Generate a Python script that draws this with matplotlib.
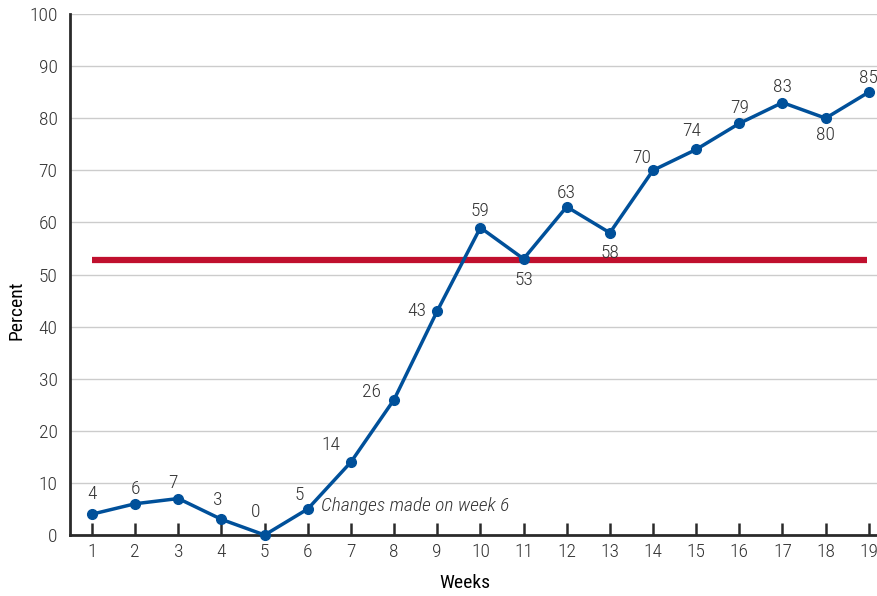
import matplotlib
matplotlib.use("Agg")
import matplotlib.pyplot as plt
import numpy as np

weeks = list(range(1, 20))
percent = [4, 6, 7, 3, 0, 5, 14, 26, 43, 59, 53, 63, 58, 70, 74, 79, 83, 80, 85]
point_labels = [str(v) for v in percent]
median_line = 52.7
median_span = [1, 18.95]
note_text = "Changes made on week 6"

# label offsets in pixels (dx, dy)
label_offsets = [(0, 20), (0, 15), (-5, 16), (-4, 19), (-9, 23), (-9, 14),
                 (-20, 17), (-23, 8), (-20, 0), (0, 17), (0, -21), (0, 14),
                 (0, -20), (-11, 12), (-4, 18), (0, 15), (0, 16), (0, -17),
                 (0, 14)]

plt.rcParams.update({
    "font.family": ["Roboto Condensed", "DejaVu Sans"],
    "font.size": 14,
    "font.weight": "light",
    "text.color": "#333333",
})

BLUE = "#00509a"
RED = "#c0102e"
DARK = "#2a2a2a"
TXT = "#333333"

fig = plt.figure(figsize=(8.77, 5.96), dpi=100)
ax = fig.add_axes([70 / 877, 1 - 535 / 596, 807 / 877, 521 / 596])

ax.set_xlim(0.49, 19.19)
ax.set_ylim(0, 100)
ax.set_yticks(np.arange(0, 101, 10))
ax.set_xticks(weeks)
ax.grid(axis="y", color="#cccccc", lw=1)
ax.set_axisbelow(True)

for s in ["top", "right"]:
    ax.spines[s].set_visible(False)
for s in ["left", "bottom"]:
    ax.spines[s].set_linewidth(2)
    ax.spines[s].set_color(DARK)

ax.tick_params(axis="x", direction="in", length=9, width=1.8, color=DARK,
               pad=6, labelsize=14, labelcolor=TXT)
ax.tick_params(axis="y", length=0, pad=9, labelsize=14, labelcolor=TXT)

ax.plot(median_span, [median_line, median_line], color=RED, lw=4.5,
        solid_capstyle="butt", zorder=2)
ax.plot(weeks, percent, color=BLUE, lw=2.5, marker="o", ms=7,
        zorder=3, clip_on=False)

for x, y, lab, (dx, dy) in zip(weeks, percent, point_labels, label_offsets):
    ax.annotate(lab, (x, y), xytext=(dx * 0.72, dy * 0.72),
                textcoords="offset points", ha="center", va="center",
                fontsize=14, color=TXT, annotation_clip=False)

ax.text(6.3, 5.6, note_text, style="italic", fontsize=14, ha="left",
        va="center", color=TXT)

ax.set_xlabel("Weeks", fontsize=14)
ax.set_ylabel("Percent", fontsize=14)
ax.xaxis.set_label_coords(0.489, -0.075)
ax.yaxis.set_label_coords(-0.055, 0.432)

fig.savefig("out.png", dpi=100)
